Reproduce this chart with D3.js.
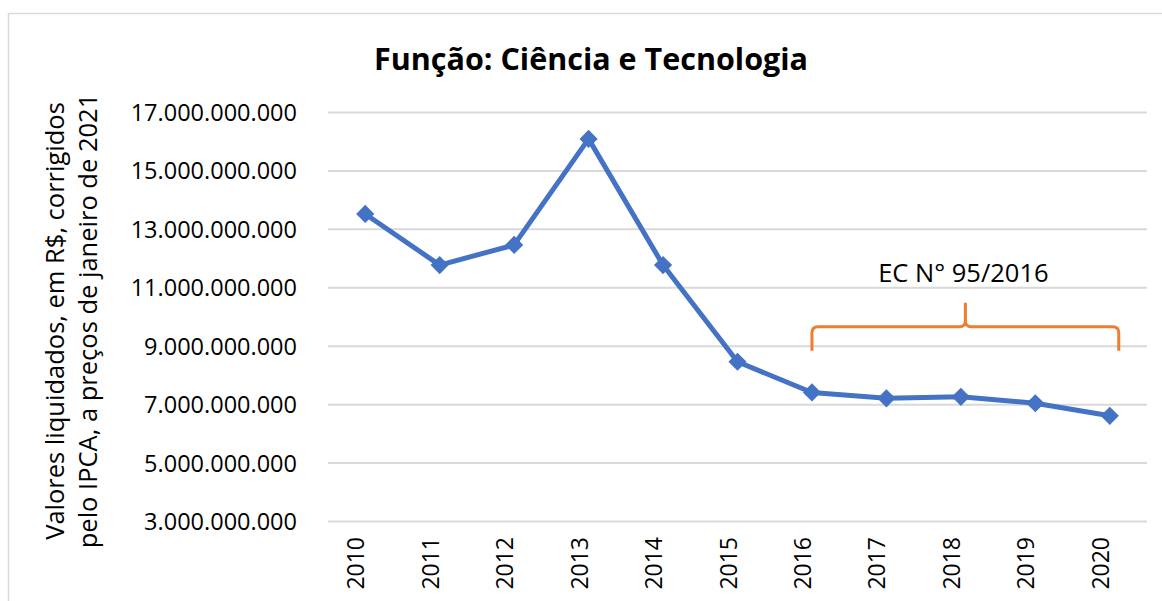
<!DOCTYPE html>
<html>
<head>
<meta charset="utf-8">
<script src="https://cdn.jsdelivr.net/npm/d3@7"></script>
<style>
  body { margin: 0; background: #fff; }
  svg { display: block; }
</style>
</head>
<body>
<svg id="chart"></svg>
<script>
var years = ["2010", "2011", "2012", "2013", "2014", "2015", "2016", "2017", "2018", "2019", "2020"]
var values = [13.51e9, 11.76e9, 12.45e9, 16.08e9, 11.76e9, 8.45e9, 7.40e9, 7.20e9, 7.25e9, 7.03e9, 6.60e9]
var yTicks = [3e9, 5e9, 7e9, 9e9, 11e9, 13e9, 15e9, 17e9]
var titleText = "Função: Ciência e Tecnologia"
var yTitleLines = ["Valores liquidados, em R$, corrigidos", "pelo IPCA, a preços de janeiro de 2021"]
var bracketYears = ["2016", "2020"]
var bracketLabel = "EC N° 95/2016"

var dimensions = {
    width: 1162,
    height: 601,
    margin: {
        top: 112,
        bottom: 80,
        right: 15,
        left: 328
    }
}

var font = "'Open Sans', sans-serif"

var svg = d3.select("#chart")
    .attr("width", dimensions.width)
    .attr("height", dimensions.height)

// chart frame
svg.append("rect")
    .attr("x", 8.5)
    .attr("y", 13.5)
    .attr("width", 1170)
    .attr("height", 620)
    .attr("fill", "none")
    .attr("stroke", "#d9d9d9")
    .attr("stroke-width", 1.5)

var xScale = d3.scaleBand()
    .domain(years)
    .range([dimensions.margin.left, dimensions.width - dimensions.margin.right])

var yScale = d3.scaleLinear()
    .domain([3e9, 17e9])
    .range([dimensions.height - dimensions.margin.bottom, dimensions.margin.top])

var xCenter = d => xScale(d) + xScale.bandwidth() / 2
var fmt = d => d3.format(",")(d).replace(/,/g, ".")

// gridlines + y labels
var yAxisgen = d3.axisLeft(yScale)
    .tickValues(yTicks)
    .tickSize(-(dimensions.width - dimensions.margin.right - dimensions.margin.left))
    .tickPadding(31)
    .tickFormat(fmt)

var yAxis = svg.append("g")
    .attr("transform", `translate(${dimensions.margin.left},0)`)
    .call(yAxisgen)

yAxis.select(".domain").remove()
yAxis.selectAll(".tick line")
    .attr("stroke", "#d9d9d9")
    .attr("stroke-width", 2)
yAxis.selectAll(".tick text")
    .attr("fill", "#000")
    .style("font-family", font)
    .style("font-size", "23.5px")
    .attr("dy", "0.36em")

// x labels, rotated
svg.append("g")
    .selectAll("text")
    .data(years)
    .enter()
    .append("text")
    .attr("transform", d => `translate(${xCenter(d) - 1},537) rotate(-90)`)
    .attr("text-anchor", "end")
    .style("font-family", font)
    .style("font-size", "23px")
    .attr("fill", "#000")
    .text(d => d)

// line
var line = d3.line()
    .x((d, i) => xCenter(years[i]))
    .y(d => yScale(d))

svg.append("path")
    .datum(values)
    .attr("d", line)
    .attr("fill", "none")
    .attr("stroke", "#4472C4")
    .attr("stroke-width", 5)
    .attr("stroke-linejoin", "round")

svg.append("g")
    .selectAll("path")
    .data(values)
    .enter()
    .append("path")
    .attr("d", d3.symbol().type(d3.symbolSquare).size(165))
    .attr("transform", (d, i) => `translate(${xCenter(years[i])},${yScale(d)}) rotate(45)`)
    .attr("fill", "#4472C4")

// bracket annotation
var bx0 = xCenter(bracketYears[0])
var bx1 = xCenter(bracketYears[1]) + 9
var bmid = (bx0 + bx1) / 2
var by = yScale(9.65e9)
var r = 6
var bracket = d3.path()
bracket.moveTo(bx0, by + 24)
bracket.lineTo(bx0, by + r)
bracket.quadraticCurveTo(bx0, by, bx0 + r, by)
bracket.lineTo(bmid - r, by)
bracket.quadraticCurveTo(bmid, by, bmid, by - r)
bracket.lineTo(bmid, by - 24)
bracket.moveTo(bmid, by - r)
bracket.quadraticCurveTo(bmid, by, bmid + r, by)
bracket.lineTo(bx1 - r, by)
bracket.quadraticCurveTo(bx1, by, bx1, by + r)
bracket.lineTo(bx1, by + 24)

svg.append("path")
    .attr("d", bracket.toString())
    .attr("fill", "none")
    .attr("stroke", "#ED7D31")
    .attr("stroke-width", 3)

svg.append("text")
    .attr("x", bmid - 2)
    .attr("y", 282)
    .attr("text-anchor", "middle")
    .style("font-family", font)
    .style("font-size", "25.5px")
    .attr("fill", "#000")
    .text(bracketLabel)

// title
svg.append("text")
    .attr("x", 591)
    .attr("y", 70)
    .attr("text-anchor", "middle")
    .style("font-family", font)
    .style("font-size", "30.5px")
    .style("font-weight", "bold")
    .attr("fill", "#000")
    .text(titleText)

// y axis title
svg.append("g")
    .selectAll("text")
    .data(yTitleLines)
    .enter()
    .append("text")
    .attr("transform", (d, i) => `translate(${64 + i * 33},321) rotate(-90)`)
    .attr("text-anchor", "middle")
    .style("font-family", font)
    .style("font-size", "25.5px")
    .attr("fill", "#000")
    .text(d => d)
</script>
</body>
</html>
